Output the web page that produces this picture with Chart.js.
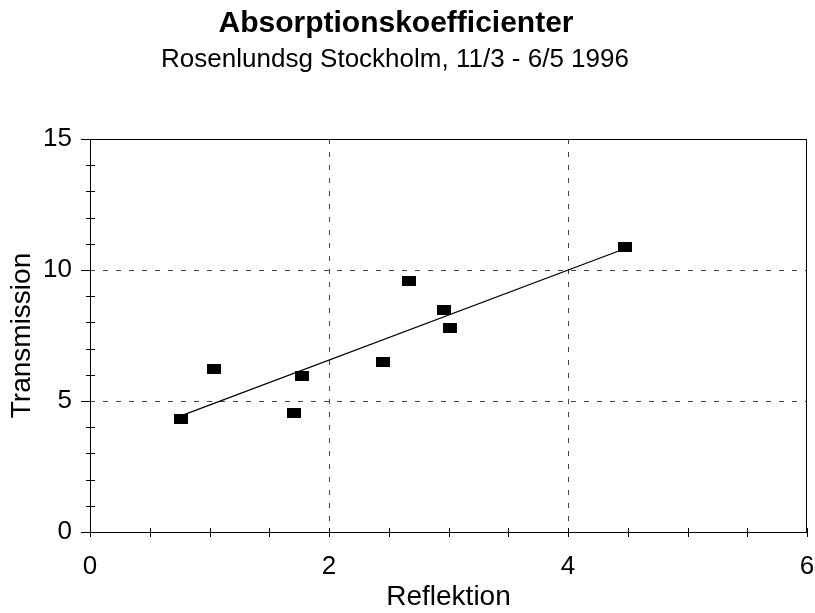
<!DOCTYPE html>
<html>
<head>
<meta charset="utf-8">
<script src="https://cdn.jsdelivr.net/npm/chart.js@4"></script>
<style>
  html, body { margin: 0; padding: 0; background: #fff; }
  #wrap { width: 815px; height: 613px; }
</style>
</head>
<body>
<div id="wrap"><canvas id="chart" width="815" height="613"></canvas></div>
<script>
// data
const reflektion = [0.76, 1.04, 1.71, 1.77, 2.45, 2.67, 2.96, 3.01, 4.48]
const transmission = [4.31, 6.22, 4.54, 5.95, 6.49, 9.58, 8.47, 7.79, 10.88]
const trendX = [0.76, 4.48]
const trendY = [4.43, 10.82]
const xTicks = [0, 2, 4, 6]
const yTicks = [0, 5, 10, 15]
const titleText = 'Absorptionskoefficienter'
const subtitleText = 'Rosenlundsg Stockholm, 11/3 - 6/5 1996'

const FONT = "'Liberation Sans', Arial, sans-serif"

// black rectangle marker, wider than tall
const marker = document.createElement('canvas')
marker.width = 14
marker.height = 10
const mctx = marker.getContext('2d')
mctx.fillStyle = '#000'
mctx.fillRect(0, 0, 14, 10)

const points = reflektion.map((x, i) => ({ x: x, y: transmission[i] }))
const trend = trendX.map((x, i) => ({ x: x, y: trendY[i] }))

// two-line heading, centred a bit left of the canvas middle like the original
const heading = {
  id: 'heading',
  afterDraw(chart) {
    const ctx = chart.ctx
    ctx.save()
    ctx.fillStyle = '#000'
    ctx.textAlign = 'center'
    ctx.textBaseline = 'middle'
    ctx.font = 'bold 30px ' + FONT
    ctx.fillText(titleText, 396, 24)
    ctx.font = '26px ' + FONT
    ctx.fillText(subtitleText, 395, 60)
    ctx.restore()
  }
}

// frame + tick marks like the old spreadsheet chart
const frameTicks = {
  id: 'frameTicks',
  afterDraw(chart) {
    const { ctx, chartArea: a, scales: { x, y } } = chart
    ctx.save()
    ctx.strokeStyle = '#000'
    ctx.lineWidth = 1
    ctx.strokeRect(a.left + 0.5, a.top + 0.5, a.right - a.left - 1, a.bottom - a.top)
    ctx.beginPath()
    // x: crossing ticks every 0.5
    for (let v = 0; v <= 6.001; v += 0.5) {
      const px = Math.round(x.getPixelForValue(v)) + 0.5
      ctx.moveTo(px, a.bottom - 4)
      ctx.lineTo(px, a.bottom + 5)
    }
    // y: major ticks outside, minor crossing
    for (let v = 0; v <= 15; v++) {
      const py = Math.round(y.getPixelForValue(v)) + 0.5
      if (v % 5 === 0) {
        ctx.moveTo(a.left - 9, py)
        ctx.lineTo(a.left, py)
      } else {
        ctx.moveTo(a.left - 4, py)
        ctx.lineTo(a.left + 5, py)
      }
    }
    ctx.stroke()
    ctx.restore()
  }
}

new Chart(document.getElementById('chart'), {
  type: 'scatter',
  data: {
    datasets: [{
      label: 'Mätpunkter',
      data: points,
      pointStyle: marker,
      pointRadius: 7,
      pointHoverRadius: 7
    }, {
      label: 'Trend',
      data: trend,
      showLine: true,
      borderColor: '#000',
      borderWidth: 1.3,
      pointRadius: 0,
      pointHoverRadius: 0
    }]
  },
  options: {
    responsive: false,
    animation: false,
    layout: {
      padding: { left: 0, right: 4, top: 139, bottom: 0 }
    },
    plugins: {
      legend: { display: false },
      tooltip: { enabled: false },
      title: { display: false }
    },
    scales: {
      x: {
        type: 'linear',
        min: 0,
        max: 6,
        afterBuildTicks(scale) {
          scale.ticks = xTicks.map(v => ({ value: v }))
        },
        afterFit(scale) {
          scale.height = 81
          scale.paddingLeft = 0
          scale.paddingRight = 0
        },
        ticks: {
          color: '#000',
          font: { family: FONT, size: 26 },
          padding: 19,
          maxRotation: 0
        },
        grid: {
          drawTicks: false,
          color: ctx => (ctx.tick && (ctx.tick.value === 0 || ctx.tick.value === 6)) ? 'rgba(0,0,0,0)' : '#444',
          lineWidth: 1
        },
        border: { display: false, dash: [5, 8] },
        title: {
          display: true,
          text: 'Reflektion',
          color: '#000',
          font: { family: FONT, size: 28, lineHeight: 1.1 },
          padding: { top: 0, bottom: 0 }
        }
      },
      y: {
        type: 'linear',
        min: 0,
        max: 15,
        afterBuildTicks(scale) {
          scale.ticks = yTicks.map(v => ({ value: v }))
        },
        afterFit(scale) {
          scale.width = 90
          scale.paddingTop = 0
          scale.paddingBottom = 0
        },
        ticks: {
          color: '#000',
          font: { family: FONT, size: 26 },
          padding: 18
        },
        grid: {
          drawTicks: false,
          color: ctx => (ctx.tick && (ctx.tick.value === 0 || ctx.tick.value === 15)) ? 'rgba(0,0,0,0)' : '#444',
          lineWidth: 1
        },
        border: { display: false, dash: [5, 8] },
        title: {
          display: true,
          text: 'Transmission',
          color: '#000',
          font: { family: FONT, size: 28, lineHeight: 1.2 },
          padding: { top: 5, bottom: 0 }
        }
      }
    }
  },
  plugins: [heading, frameTicks]
})
</script>
</body>
</html>
